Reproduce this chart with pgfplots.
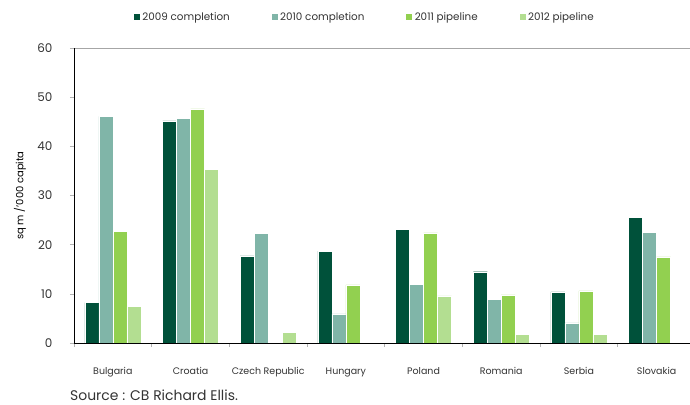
\documentclass[border=0pt]{standalone}
\usepackage{pgfplots}
\pgfplotsset{compat=1.18}
\usepackage{fontspec}
\setmainfont{Poppins}
\definecolor{c1}{HTML}{00513A}
\definecolor{c2}{HTML}{80B5A8}
\definecolor{c3}{HTML}{92D050}
\definecolor{c4}{HTML}{B3DE91}
\definecolor{txt}{HTML}{333333}
\begin{document}
\begin{tikzpicture}
\begin{axis}[
  name=ax, scale only axis,
  width=616bp, height=295bp,
  xmin=-0.5, xmax=7.43, ymin=0, ymax=60,
  ytick={0,10,...,60},
  xtick={-0.5,0.5,1.5,2.5,3.5,4.5,5.5,6.5},
  xticklabels={},
  extra x ticks={0,1,2,3,4,5,6,7},
  extra x tick labels={Bulgaria,Croatia,Czech Republic,Hungary,Poland,Romania,Serbia,Slovakia},
  extra x tick style={major tick length=0pt},
  major tick length=4bp,
  tick style={draw=gray!60, line width=0.6pt},
  tick align=outside,
  axis on top,
  axis x line*=bottom, axis y line*=left,
  axis line style={black, line width=1pt},
  ybar=0pt, bar width=0.18,
  /pgf/number format/assume math mode=true,
  ticklabel style={text=txt},
  yticklabel style={font=\fontsize{12}{14}\selectfont, xshift=-14bp},
  xticklabel style={font=\fontsize{9.5}{11}\selectfont, yshift=-21bp},
  ylabel={sq m /'000 capita},
  ylabel style={font=\fontsize{7.6}{9}\selectfont, text=txt},
  every axis y label/.style={at={(axis description cs:-0.0877,0.5)}, rotate=90, anchor=center},
  legend columns=4,
  legend style={draw=none, fill=none, at={(axis description cs:0.0958,1.105)}, anchor=west,
    font=\fontsize{10.4}{12}\selectfont, text=txt,
    /tikz/every even column/.append style={column sep=39bp},
    inner sep=0pt, outer sep=0pt},
  legend image code/.code={\fill[#1] (0bp,-3.5bp) rectangle (7bp,3.5bp);},
  legend cell align=left,
  clip=false,
]
\addplot[fill=c1, draw=white, line width=0.4pt] coordinates {(0,8.2) (1,45.2) (2,17.7) (3,18.7) (4,23.1) (5,14.5) (6,10.4) (7,25.5)};
\addplot[fill=c2, draw=white, line width=0.4pt] coordinates {(0,46.1) (1,45.7) (2,22.3) (3,5.9) (4,11.9) (5,8.9) (6,4.1) (7,22.5)};
\addplot[fill=c3, draw=white, line width=0.4pt] coordinates {(0,22.7) (1,47.6) (3,11.8) (4,22.4) (5,9.8) (6,10.6) (7,17.5)};
\addplot[fill=c4, draw=white, line width=0.4pt] coordinates {(0,7.4) (1,35.3) (2,2.2) (4,9.6) (5,1.7) (6,1.8)};
\legend{2009 completion,2010 completion,2011 pipeline\hspace{10bp},2012 pipeline}
\draw[gray!70, line width=0.8pt] (rel axis cs:0,1) -- (rel axis cs:1,1);
\end{axis}
\coordinate (O) at ([shift={(-74bp,-62bp)}]ax.south west);
\node[anchor=base west, font=\fontsize{14}{16}\selectfont, text=txt, inner sep=0pt] at ([shift={(70bp,5bp)}]O) {Source : CB Richard Ellis.};
\pgfresetboundingbox
\useasboundingbox (O) rectangle ([shift={(690bp,405bp)}]O);
\end{tikzpicture}
\end{document}
